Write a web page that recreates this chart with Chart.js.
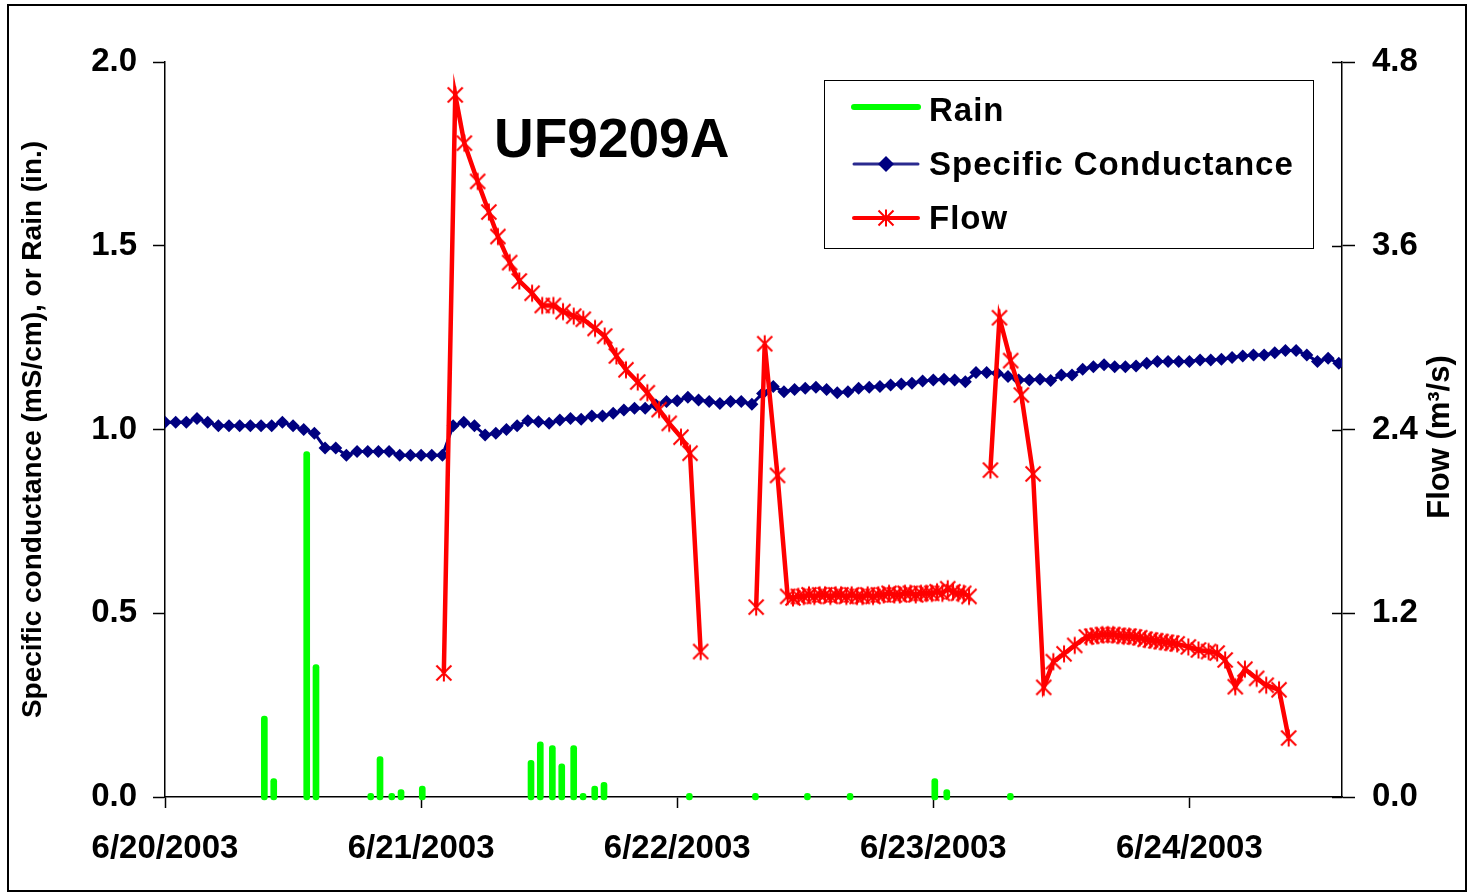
<!DOCTYPE html>
<html><head><meta charset="utf-8">
<script src="https://cdn.jsdelivr.net/npm/chart.js@4.4.1/dist/chart.umd.min.js"></script>
<style>html,body{margin:0;padding:0;background:#fff;}canvas{display:block;}</style>
</head><body>
<canvas id="c" width="1471" height="896"></canvas>
<script>
// ---------------- DATA ----------------
const chartTitle = 'UF9209A';
const seriesNames = ['Rain', 'Specific Conductance', 'Flow'];
const leftAxisTitle = 'Specific conductance (mS/cm), or Rain (in.)';
const rightAxisTitle = 'Flow (m³/s)';
// x axis: hours since 6/20/2003 00:00
const dayTickHours = [0, 24, 48, 72, 96];
const dateLabels = ['6/20/2003', '6/21/2003', '6/22/2003', '6/23/2003', '6/24/2003'];
const leftTicks = [0, 0.5, 1.0, 1.5, 2.0];
const rightTicks = [0, 1.2, 2.4, 3.6, 4.8];

// Specific conductance, hourly (index = hour)
const scHourly = [
  1.02, 1.02, 1.02, 1.03, 1.02, 1.01, 1.01, 1.01, 1.01, 1.01, 1.01, 1.02, 1.01, 1.00, 0.99, 0.95,
  0.95, 0.93, 0.94, 0.94, 0.94, 0.94, 0.93, 0.93, 0.93, 0.93, 0.93, 1.01, 1.02, 1.01, 0.985, 0.99,
  1.00, 1.01, 1.024, 1.021, 1.017, 1.026, 1.030, 1.028, 1.037, 1.037, 1.044, 1.053, 1.058, 1.058, 1.067, 1.076,
  1.078, 1.088, 1.080, 1.076, 1.071, 1.076, 1.076, 1.069, 1.098, 1.117, 1.103, 1.109, 1.112, 1.115, 1.109, 1.100,
  1.103, 1.112, 1.115, 1.117, 1.121, 1.124, 1.126, 1.132, 1.135, 1.137, 1.135, 1.130, 1.155, 1.155, 1.153, 1.144,
  1.135, 1.135, 1.137, 1.133, 1.148, 1.148, 1.164, 1.171, 1.176, 1.171, 1.171, 1.173, 1.180, 1.185, 1.185, 1.185,
  1.185, 1.189, 1.189, 1.191, 1.196, 1.200, 1.203, 1.203, 1.209, 1.215, 1.215, 1.203, 1.185, 1.194, 1.180, 1.18
];

// Rain (in.)
const rainHours = [9.31, 10.19, 13.28, 14.15, 19.28, 20.15, 21.25, 22.12, 24.11, 34.30, 35.17, 36.30,
  37.18, 38.30, 39.18, 40.27, 41.14, 49.14, 55.33, 60.20, 64.20, 72.14, 73.26, 79.22];
const rainInches = [0.22, 0.05, 0.94, 0.36, 0.01, 0.11, 0.01, 0.02, 0.03, 0.10, 0.15, 0.14,
  0.09, 0.14, 0.01, 0.03, 0.04, 0.01, 0.01, 0.01, 0.01, 0.05, 0.02, 0.01];

// Flow (m3/s); null = gap in record
const flowHours = [
  26.13, 27.2, 28.05, 29.3, 30.35, 31.2, 32.3, 33.2, 34.4, 35.35, 36.4, 37.3, 38.3, 39.2, 40.3, 41.2,
  42.3, 43.2, 44.3, 45.2, 46.3, 47.25, 48.35, 49.2, 50.2,
  52.5,
  55.4, 56.2, 57.4, 58.35, 58.85, 59.35, 59.85, 60.35, 60.85, 61.35, 61.85, 62.35, 62.85, 63.35, 63.85,
  64.35, 64.85, 65.35, 65.85, 66.35, 66.85, 67.35, 67.85, 68.35, 68.85, 69.35, 69.85, 70.35, 70.85,
  71.35, 71.85, 72.35, 72.85, 73.35, 73.85, 74.35, 74.85, 75.35,
  76.5,
  77.35, 78.2, 79.25, 80.25, 81.35, 82.35, 83.25, 84.25, 85.25,
  86.35, 86.85, 87.35, 87.85, 88.35, 88.85, 89.35, 89.85, 90.35, 90.85, 91.35, 91.85, 92.35, 92.85,
  93.35, 93.85, 94.35, 94.85,
  95.9, 96.85, 97.8, 98.6, 99.35, 100.3, 101.2, 102.3, 103.2, 104.4, 105.3
];
const flowValues = [
  0.81, 4.585, 4.27, 4.02, 3.82, 3.66, 3.49, 3.37, 3.29, 3.21, 3.21, 3.17, 3.14, 3.12, 3.06, 3.01,
  2.88, 2.79, 2.71, 2.64, 2.53, 2.44, 2.35, 2.245, 0.95,
  null,
  1.24, 2.96, 2.10, 1.31, 1.30, 1.31, 1.31, 1.32, 1.31, 1.32, 1.32, 1.31, 1.32, 1.32, 1.31,
  1.32, 1.31, 1.31, 1.32, 1.31, 1.32, 1.32, 1.33, 1.32, 1.32, 1.33, 1.33, 1.32, 1.33,
  1.33, 1.33, 1.34, 1.33, 1.36, 1.34, 1.33, 1.33, 1.31,
  null,
  2.135, 3.13, 2.85, 2.625, 2.11, 0.716, 0.884, 0.935, 0.99,
  1.045, 1.05, 1.055, 1.06, 1.06, 1.06, 1.055, 1.05, 1.05, 1.045, 1.04, 1.03, 1.025, 1.02,
  1.015, 1.01, 1.005, 1.00,
  0.98, 0.96, 0.95, 0.94, 0.895, 0.72, 0.835, 0.775, 0.73, 0.70, 0.385
];

// ---------------- STYLE ----------------
const FONT = '"Liberation Sans", Arial, sans-serif';
const RAIN_C = '#00ff00', SC_C = '#000080', FLOW_C = '#ff0000';

const starImg = (() => {
  const c = document.createElement('canvas'); c.width = 20; c.height = 20;
  const g = c.getContext('2d'); g.strokeStyle = FLOW_C; g.lineWidth = 2;
  g.beginPath();
  g.moveTo(2.5, 2.5); g.lineTo(17.5, 17.5);
  g.moveTo(17.5, 2.5); g.lineTo(2.5, 17.5);
  g.moveTo(10, 1.5); g.lineTo(10, 18.5);
  g.stroke();
  return c;
})();

const deco = {
  id: 'deco',
  beforeDraw(chart) {
    const ctx = chart.ctx; ctx.save(); ctx.fillStyle = '#fff';
    ctx.fillRect(0, 0, chart.width, chart.height); ctx.restore();
  },
  afterDraw(chart) {
    const ctx = chart.ctx, ca = chart.chartArea, y1 = chart.scales.y1;
    ctx.save();
    // inner tick marks on the right axis
    ctx.strokeStyle = '#000'; ctx.lineWidth = 1.5;
    y1.ticks.forEach(t => {
      const py = Math.round(y1.getPixelForValue(t.value)) + 0.5;
      ctx.beginPath(); ctx.moveTo(ca.right - 10, py); ctx.lineTo(ca.right, py); ctx.stroke();
    });
    // outer frame
    ctx.lineWidth = 2; ctx.strokeRect(8, 5, 1458, 886);
    // chart title
    ctx.fillStyle = '#000'; ctx.font = 'bold 55px ' + FONT;
    ctx.textAlign = 'left'; ctx.textBaseline = 'alphabetic';
    ctx.fillText(chartTitle, 494, 157);
    // right axis title (reads bottom to top)
    ctx.save();
    ctx.translate(1440, 437); ctx.rotate(-Math.PI / 2);
    ctx.font = 'bold 31px ' + FONT; ctx.textAlign = 'center'; ctx.textBaseline = 'middle';
    ctx.fillText(rightAxisTitle, 0, 0);
    ctx.restore();
    // legend
    ctx.lineWidth = 1; ctx.strokeStyle = '#000';
    ctx.strokeRect(824.5, 80.5, 489, 168);
    const rows = [{ ly: 107, ty: 121 }, { ly: 164, ty: 175 }, { ly: 218, ty: 229 }];
    ctx.lineCap = 'round';
    // rain
    ctx.strokeStyle = RAIN_C; ctx.lineWidth = 6;
    ctx.beginPath(); ctx.moveTo(854, rows[0].ly); ctx.lineTo(918, rows[0].ly); ctx.stroke();
    // sc
    ctx.strokeStyle = '#2a2a8f'; ctx.lineWidth = 3;
    ctx.beginPath(); ctx.moveTo(854, rows[1].ly); ctx.lineTo(918, rows[1].ly); ctx.stroke();
    ctx.fillStyle = SC_C; ctx.beginPath();
    ctx.moveTo(886 - 8, rows[1].ly); ctx.lineTo(886, rows[1].ly - 8); ctx.lineTo(886 + 8, rows[1].ly); ctx.lineTo(886, rows[1].ly + 8);
    ctx.closePath(); ctx.fill();
    // flow
    ctx.strokeStyle = FLOW_C; ctx.lineWidth = 4;
    ctx.beginPath(); ctx.moveTo(854, rows[2].ly); ctx.lineTo(918, rows[2].ly); ctx.stroke();
    ctx.drawImage(starImg, 886 - 10, rows[2].ly - 10);
    ctx.fillStyle = '#000'; ctx.font = 'bold 33px ' + FONT; ctx.textAlign = 'left'; ctx.textBaseline = 'alphabetic';
    if ('letterSpacing' in ctx) ctx.letterSpacing = '1px';
    chart.data.datasets.forEach((ds, i) => ctx.fillText(ds.label, 929, rows[i].ty));
    ctx.restore();
  }
};

const tickFont = { family: FONT, size: 33, weight: 'bold' };

new Chart(document.getElementById('c'), {
  type: 'line',
  data: {
    datasets: [
      {
        type: 'bar', label: seriesNames[0], yAxisID: 'y', order: 3,
        data: rainHours.map((h, i) => ({ x: h, y: rainInches[i] })),
        backgroundColor: RAIN_C, borderWidth: 0, barThickness: 6,
        borderRadius: 3, borderSkipped: false, base: -0.008, clip: false
      },
      {
        label: seriesNames[1], yAxisID: 'y', order: 2,
        data: scHourly.map((v, i) => ({ x: i, y: v })),
        borderColor: SC_C, borderWidth: 3, backgroundColor: SC_C,
        pointStyle: 'rectRot', pointRadius: 6.5, pointBorderWidth: 0,
        pointBackgroundColor: SC_C, tension: 0
      },
      {
        label: seriesNames[2], yAxisID: 'y1', order: 1,
        data: flowHours.map((h, i) => ({ x: h, y: flowValues[i] })),
        borderColor: FLOW_C, borderWidth: 4.5, spanGaps: false,
        pointStyle: starImg, pointRadius: 9, tension: 0
      }
    ]
  },
  options: {
    responsive: false, animation: false, devicePixelRatio: 1,
    layout: { padding: { top: 62, left: 0, right: 0, bottom: 0 } },
    plugins: { legend: { display: false }, tooltip: { enabled: false }, title: { display: false } },
    scales: {
      x: {
        type: 'linear', min: 0, max: 110.3, offset: false,
        afterBuildTicks: s => { s.ticks = dayTickHours.map(v => ({ value: v })); },
        afterFit: s => { s.height = 99; },
        ticks: {
          callback: v => dateLabels[dayTickHours.indexOf(v)],
          font: tickFont, color: '#000', maxRotation: 0, autoSkip: false, padding: 21
        },
        grid: { offset: false, drawOnChartArea: false, drawTicks: true, tickLength: 11, color: '#000', tickWidth: 1.5 },
        border: { display: true, color: '#000', width: 1.5 }
      },
      y: {
        position: 'left', min: 0, max: 2,
        afterBuildTicks: s => { s.ticks = leftTicks.map(v => ({ value: v })); },
        afterFit: s => { s.width = 165; },
        ticks: { callback: v => v.toFixed(1), font: tickFont, color: '#000', padding: 16 },
        grid: { drawOnChartArea: false, drawTicks: true, tickLength: 12, color: '#000', tickWidth: 1.5 },
        border: { display: true, color: '#000', width: 1.5 },
        title: {
          display: true, text: leftAxisTitle, color: '#000',
          font: { family: FONT, size: 28, weight: 'bold' }, padding: { top: 16, bottom: 0 }
        }
      },
      y1: {
        position: 'right', min: 0, max: 4.8,
        afterBuildTicks: s => { s.ticks = rightTicks.map(v => ({ value: v })); },
        afterFit: s => { s.width = 129; },
        ticks: { callback: v => v.toFixed(1), font: tickFont, color: '#000', padding: 17 },
        grid: { drawOnChartArea: false, drawTicks: true, tickLength: 13, color: '#000', tickWidth: 1.5 },
        border: { display: true, color: '#000', width: 1.5 }
      }
    }
  },
  plugins: [deco]
});
</script>
</body></html>
